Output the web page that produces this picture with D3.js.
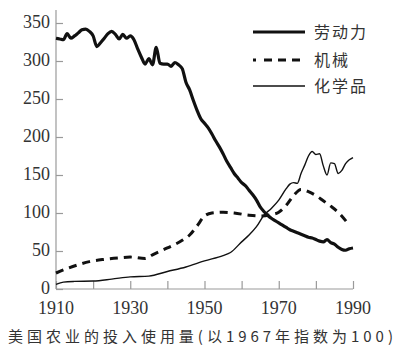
<!DOCTYPE html>
<html><head><meta charset="utf-8">
<script src="https://cdn.jsdelivr.net/npm/d3@7"></script>
<style>body{margin:0;background:#fff}svg{display:block}</style>
</head><body><svg id="c" width="398" height="356"></svg>
<script>
const laborYears = [1910,1911,1912,1913,1914,1915,1916,1917,1918,1919,1920,1921,1922,1923,1924,1925,1926,1927,1928,1929,1930,1931,1932,1933,1934,1935,1936,1937,1938,1939,1940,1941,1942,1943,1944,1945,1946,1947,1948,1949,1950,1951,1952,1953,1954,1955,1956,1957,1958,1959,1960,1961,1962,1963,1964,1965,1966,1967,1968,1969,1970,1971,1972,1973,1974,1975,1976,1977,1978,1979,1980,1981,1982,1983,1984,1985,1986,1987,1988,1989,1990];
const laborValues = [330,329,328,336,330,333,337,341,342,339,333,319,324,330,336,339,335,329,335,330,333,328,316,305,296,303,295,318,297,296,296,293,298,295,290,272,262,248,235,224,218,212,204,195,187,178,168,160,152,146,140,136,130,124,117,108,102,97,93,90,87,84,81,78,76,74,72,70,68,67,65,63,62,65,61,59,55,52,51,53,54];
const machYears = [1910,1913,1916,1919,1923,1927,1930,1934,1936,1940,1944,1946,1948,1950,1952,1955,1958,1962,1965,1968,1970,1972,1974,1976,1978,1980,1982,1984,1986,1988.5];
const machValues = [21,27,32,36,39,41,42,40,45,54,64,71,83,96,100,101,100,97,96,98,101,110,123,131,128,123,116,109,101,87];
const chemYears = [1910,1912,1915,1920,1925,1930,1935,1940,1945,1950,1955,1957,1960,1962,1964,1966,1968,1970,1972,1973,1974,1975,1976,1977,1978,1979,1980,1981,1982,1983,1984,1985,1986,1987,1988,1989,1990];
const chemValues = [6,9,10,10.5,13,16,17,23,29,37,44,48,62,71,82,97,106,117,132,138,140,139,152,163,175,181,177,178,162,150,166,165,152,156,165,170,173];
const xTicks = [1910,1920,1930,1940,1950,1960,1970,1980,1990];
const xTickLabels = [1910,1930,1950,1970,1990];
const yTicks = [0,50,100,150,200,250,300,350];
const legendLabels = ["劳动力","机械","化学品"];
const caption = "美国农业的投入使用量(以1967年指数为100)";

const svg = d3.select("#c");
const x = d3.scaleLinear().domain([1910,1990]).range([56,353]);
const y = d3.scaleLinear().domain([0,350]).range([289,23]);
const axisColor = "#9a9a9a", textColor = "#333";

svg.append("line").attr("x1",56).attr("x2",56).attr("y1",10).attr("y2",289).attr("stroke",axisColor).attr("stroke-width",1.2);
svg.append("line").attr("x1",56).attr("x2",353).attr("y1",289).attr("y2",289).attr("stroke",axisColor).attr("stroke-width",1.2);

const yAxis = d3.axisRight(y).tickValues(yTicks).tickSize(7).tickFormat("");
const gy = svg.append("g").attr("transform","translate(56,0)").call(yAxis);
gy.select(".domain").remove();
gy.selectAll("line").attr("stroke",axisColor).attr("stroke-width",1.2);
svg.selectAll(".ylab").data(yTicks).enter().append("text")
  .attr("x",50).attr("y",d=>y(d)+5).attr("text-anchor","end")
  .attr("font-family","Liberation Serif, serif").attr("font-size",18).attr("fill",textColor).text(d=>d);

const xAxis = d3.axisTop(x).tickValues(xTicks).tickSize(8).tickFormat("");
const gx = svg.append("g").attr("transform","translate(0,289)").call(xAxis);
gx.select(".domain").remove();
gx.selectAll("line").attr("stroke",axisColor).attr("stroke-width",1.2);
svg.selectAll(".xlab").data(xTickLabels).enter().append("text")
  .attr("x",d=>x(d)).attr("y",314).attr("text-anchor","middle")
  .attr("font-family","Liberation Serif, serif").attr("font-size",18).attr("fill",textColor).text(d=>d);

const line = d3.line().x(d=>x(d[0])).y(d=>y(d[1])).curve(d3.curveMonotoneX);
const zip = (a,b)=>a.map((v,i)=>[v,b[i]]);

svg.append("path").attr("d",line(zip(chemYears,chemValues))).attr("fill","none").attr("stroke","#111").attr("stroke-width",1.4);
svg.append("path").attr("d",line(zip(machYears,machValues))).attr("fill","none").attr("stroke","#111").attr("stroke-width",3).attr("stroke-dasharray","8,6");
svg.append("path").attr("d",line(zip(laborYears,laborValues))).attr("fill","none").attr("stroke","#111").attr("stroke-width",3.2).attr("stroke-linejoin","round");

const styles = [{w:3.2,dash:null},{w:3,dash:"3,8,8,6,8,6,8,6,3"},{w:1.4,dash:null}];
const ly = [32,60,86];
legendLabels.forEach((t,i)=>{
  svg.append("line").attr("x1",253).attr("x2",305).attr("y1",ly[i]).attr("y2",ly[i])
    .attr("stroke","#111").attr("stroke-width",styles[i].w).attr("stroke-dasharray",styles[i].dash);
  svg.append("text").attr("x",314).attr("y",ly[i]+6).attr("font-family","Noto Sans CJK SC, sans-serif")
    .attr("font-size",16).attr("letter-spacing",2).attr("fill",textColor).text(t);
});

svg.append("text").attr("x",8).attr("y",342).attr("font-family","Noto Sans CJK SC, sans-serif")
  .attr("font-size",15).attr("fill",textColor).attr("textLength",385).attr("lengthAdjust","spacing").text(caption);
</script></body></html>
